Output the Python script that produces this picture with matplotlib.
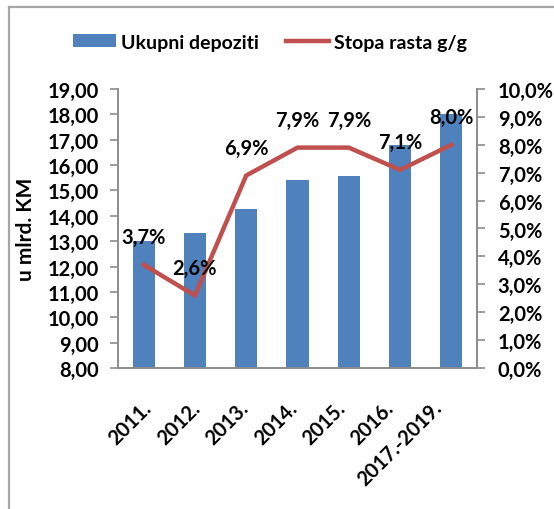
import matplotlib
matplotlib.use("Agg")
import matplotlib.pyplot as plt
from matplotlib.lines import Line2D
from matplotlib.ticker import FuncFormatter, MultipleLocator
from matplotlib.transforms import ScaledTranslation

categories = ["2011.", "2012.", "2013.", "2014.", "2015.", "2016.", "2017.-2019."]
deposits = [13.00, 13.33, 14.28, 15.42, 15.57, 16.81, 18.02]
growth = [3.7, 2.6, 6.9, 7.9, 7.9, 7.1, 8.0]
growth_labels = ["3,7%", "2,6%", "6,9%", "7,9%", "7,9%", "7,1%", "8,0%"]

BAR_C = "#4F81BD"
LINE_C = "#C0504D"
GRID_C = "#8C8C8C"
FONT = "Lato"
FS = 14.5

plt.rcParams["font.family"] = [FONT, "DejaVu Sans"]
plt.rcParams["font.weight"] = "bold"

W, H = 554, 510
fig = plt.figure(figsize=(W / 100, H / 100), dpi=100)
fig.patch.set_facecolor("white")

# outer frame (only top and left visible)
fig.add_artist(Line2D([9 / W, 1.0], [1 - 8 / H, 1 - 8 / H], transform=fig.transFigure,
                      color="#A6A6A6", lw=1.6))
fig.add_artist(Line2D([9 / W, 9 / W], [0, 1 - 8 / H], transform=fig.transFigure,
                      color="#A6A6A6", lw=1.6))

ax = fig.add_axes([118 / W, 1 - 369 / H, (477 - 118) / W, (369 - 90) / H])
x = list(range(len(categories)))
bars = ax.bar(x, deposits, width=0.43, color=BAR_C, label="Ukupni depoziti", zorder=2)
ax.set_ylim(8, 19)
ax.set_xlim(-0.5, len(categories) - 0.5)
ax.yaxis.set_major_locator(MultipleLocator(1))
ax.yaxis.set_major_formatter(FuncFormatter(lambda v, p: f"{v:.2f}".replace(".", ",")))
ax.set_xticks(x)
ax.set_xticklabels(categories, rotation=45, ha="right", rotation_mode="anchor",
                   fontsize=FS, fontweight="bold")
ax.tick_params(axis="x", length=0, pad=21)
for i, t in enumerate(ax.get_xticklabels()):
    shift = ScaledTranslation((-2 - 2.9 * i) / 100, 0, fig.dpi_scale_trans)
    t.set_transform(t.get_transform() + shift)
ax.tick_params(axis="y", length=6, width=1.2, color=GRID_C, labelsize=FS, pad=8)
for t in ax.get_yticklabels():
    t.set_fontweight("bold")
ax.set_ylabel("u mlrd. KM", fontsize=FS + 0.5, fontweight="bold", labelpad=8)
for s in ["top", "right"]:
    ax.spines[s].set_visible(False)
for s in ["left", "bottom"]:
    ax.spines[s].set_color(GRID_C)
    ax.spines[s].set_linewidth(1.4)

ax2 = ax.twinx()
line, = ax2.plot(x, growth, color=LINE_C, lw=3.2, label="Stopa rasta g/g", zorder=3,
                 solid_joinstyle="miter")
ax2.set_ylim(0, 10)
ax2.yaxis.set_major_locator(MultipleLocator(1))
ax2.yaxis.set_major_formatter(FuncFormatter(lambda v, p: f"{v:.1f}%".replace(".", ",")))
ax2.tick_params(axis="y", length=6, width=1.2, color=GRID_C, labelsize=FS, pad=9)
for t in ax2.get_yticklabels():
    t.set_fontweight("bold")
for s in ["top", "left", "bottom"]:
    ax2.spines[s].set_visible(False)
ax2.spines["right"].set_color(GRID_C)
ax2.spines["right"].set_linewidth(1.4)

for xi, yi, lab in zip(x, growth, growth_labels):
    ax2.annotate(lab, (xi, yi), xytext=(0, 20), textcoords="offset points",
                 ha="center", va="center", fontsize=FS, fontweight="bold", color="black",
                 zorder=4)

leg = fig.legend(handles=[bars, line], labels=["Ukupni depoziti", "Stopa rasta g/g"],
                 loc="center", bbox_to_anchor=(270 / W, 1 - 43 / H), ncol=2, frameon=False,
                 handlelength=2.2, handleheight=0.6, handletextpad=0.25,
                 columnspacing=1.4, prop={"weight": "bold", "size": FS - 0.5})

fig.savefig("out.png", dpi=100)
